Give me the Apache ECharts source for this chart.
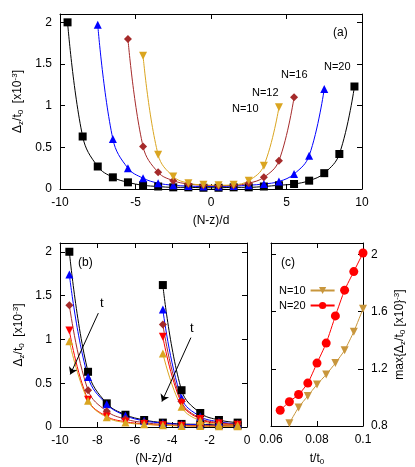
<!DOCTYPE html>
<html><head><meta charset="utf-8">
<script src="https://cdn.jsdelivr.net/npm/echarts@6/dist/echarts.min.js"></script>
<style>html,body{margin:0;padding:0;background:#fff}#c{width:415px;height:467px}</style>
</head><body><div id="c"></div>
<script>
// panel (a)
const xa20 = [-9.5,-8.5,-7.5,-6.5,-5.5,-4.5,-3.5,-2.5,-1.5,-0.5,0.5,1.5,2.5,3.5,4.5,5.5,6.5,7.5,8.5,9.5]
const ya20 = [2.0,0.63,0.27,0.14,0.08,0.045,0.03,0.02,0.02,0.015,0.015,0.02,0.02,0.03,0.045,0.06,0.1,0.19,0.42,1.23]
const xa16 = [-7.5,-6.5,-5.5,-4.5,-3.5,-2.5,-1.5,-0.5,0.5,1.5,2.5,3.5,4.5,5.5,6.5,7.5]
const ya16 = [1.97,0.6,0.25,0.13,0.07,0.045,0.035,0.03,0.03,0.035,0.045,0.06,0.09,0.18,0.4,1.2]
const xa12 = [-5.5,-4.5,-3.5,-2.5,-1.5,-0.5,0.5,1.5,2.5,3.5,4.5,5.5]
const ya12 = [1.8,0.51,0.2,0.1,0.06,0.045,0.04,0.045,0.07,0.14,0.34,1.1]
const xa10 = [-4.5,-3.5,-2.5,-1.5,-0.5,0.5,1.5,2.5,3.5,4.5]
const ya10 = [1.6,0.41,0.15,0.07,0.05,0.045,0.05,0.1,0.28,0.98]
// panel (b): N=20 and N=10 at increasing t
const xb20 = [-9.5,-8.5,-7.5,-6.5,-5.5,-4.5,-3.5,-2.5,-1.5,-0.5]
const yb20 = [
  [2.0,0.63,0.27,0.14,0.08,0.05,0.035,0.03,0.025,0.02],
  [1.74,0.57,0.26,0.13,0.07,0.045,0.03,0.025,0.02,0.02],
  [1.39,0.42,0.18,0.09,0.05,0.03,0.02,0.015,0.012,0.01],
  [1.1,0.31,0.12,0.06,0.035,0.02,0.015,0.01,0.01,0.01],
  [0.98,0.3,0.11,0.05,0.03,0.02,0.012,0.01,0.008,0.008]
]
const xb10 = [-4.5,-3.5,-2.5,-1.5,-0.5]
const yb10 = [
  [1.62,0.42,0.16,0.08,0.05],
  [1.34,0.33,0.12,0.06,0.035],
  [1.17,0.29,0.1,0.05,0.03],
  [1.03,0.27,0.09,0.04,0.025],
  [0.84,0.23,0.07,0.03,0.02]
]
// panel (c)
const xc20 = [0.064,0.068,0.072,0.076,0.08,0.084,0.088,0.092,0.096,0.1]
const yc20 = [0.91,0.97,1.02,1.10,1.24,1.38,1.57,1.75,1.88,2.01]
const xc10 = [0.068,0.072,0.076,0.08,0.084,0.088,0.092,0.096,0.1]
const yc10 = [0.82,0.93,1.01,1.09,1.16,1.24,1.33,1.46,1.62]

const F = 'Liberation Sans, Arial, sans-serif'
const bColors = ['#000000','#0000ff','#a52a2a','#ff0000','#daa520']
const bSymbols = ['rect','triangle','diamond','path://M0,0L10,0L5,9Z','triangle']
const zip = (xs, ys) => xs.map((x, i) => [x, ys[i]])

const rich = {
  a: {fontSize: 12, fontFamily: F, color: '#000'},
  s: {fontSize: 8, fontFamily: F, color: '#000', verticalAlign: 'bottom', padding: [6,0,0,0]},
  p: {fontSize: 8, fontFamily: F, color: '#000', verticalAlign: 'top', padding: [0,0,6,0]}
}
const yNameText = '{a|Δ}{s|z}{a|/t}{s|0}{a|  [x10}{p|-3}{a|]}'

function valAxis(gi, opts, pos, labels) {
  return Object.assign({
    type: 'value', gridIndex: gi, position: pos,
    axisLine: {show: true, onZero: false, lineStyle: {color: '#000'}},
    axisTick: {show: true, inside: true, length: 5, lineStyle: {color: '#000'}},
    axisLabel: {show: labels, color: '#000', fontFamily: F, fontSize: 12},
    splitLine: {show: false}
  }, opts)
}
const xName = {fontFamily: F, fontSize: 12, color: '#000'}
const yLab = {show: true, color: '#000', fontFamily: F, fontSize: 12, formatter: v => v > 2.05 ? '' : v}

const xAxis = [], yAxis = []
// grid 0 (a)
xAxis.push(valAxis(0, {min: -10, max: 10, interval: 5, name: '(N-z)/d', nameLocation: 'middle', nameGap: 26, nameTextStyle: xName}, 'bottom', true))
xAxis.push(valAxis(0, {min: -10, max: 10, interval: 5}, 'top', false))
yAxis.push(valAxis(0, {min: 0, max: 2.1, interval: 0.5, name: yNameText, nameLocation: 'middle', nameGap: 34, nameTextStyle: {rich}, axisLabel: yLab}, 'left', true))
yAxis.push(valAxis(0, {min: 0, max: 2.1, interval: 0.5}, 'right', false))
// grid 1 (b)
xAxis.push(valAxis(1, {min: -10, max: 0, interval: 2, name: '(N-z)/d', nameLocation: 'middle', nameGap: 26, nameTextStyle: xName}, 'bottom', true))
xAxis.push(valAxis(1, {min: -10, max: 0, interval: 2}, 'top', false))
yAxis.push(valAxis(1, {min: 0, max: 2.1, interval: 0.5, name: yNameText, nameLocation: 'middle', nameGap: 34, nameTextStyle: {rich}, axisLabel: yLab}, 'left', true))
yAxis.push(valAxis(1, {min: 0, max: 2.1, interval: 0.5}, 'right', false))
// grid 2 (c)
xAxis.push(valAxis(2, {min: 0.06, max: 0.1, interval: 0.02, name: '{a|t/t}{s|0}', nameLocation: 'middle', nameGap: 26, nameTextStyle: {rich}}, 'bottom', true))
xAxis.push(valAxis(2, {min: 0.06, max: 0.1, interval: 0.02}, 'top', false))
yAxis.push(valAxis(2, {min: 0.8, max: 2.08, interval: 0.4}, 'left', false))
yAxis.push(valAxis(2, {min: 0.8, max: 2.08, interval: 0.4, name: '{a|max{Δ}{s|z}{a|/t}{s|0}{a|} [x10}{p|-3}{a|]}', nameLocation: 'middle', nameGap: 30, nameRotate: 90, nameTextStyle: {rich}, axisLabel: {show: true, color: '#000', fontFamily: F, fontSize: 12, formatter: v => v > 2.05 ? '' : (v > 1.99 ? '2' : v.toFixed(1))}}, 'right', true))

const series = []
const line = (xi, yi, name, color, symbol, data, size) => ({
  type: 'line', name, xAxisIndex: xi, yAxisIndex: yi, data, smooth: 0.4,
  symbol, symbolSize: size || 8, itemStyle: {color}, lineStyle: {color, width: 1}
})
series.push(line(0, 0, 'a20', '#000', 'rect', zip(xa20, ya20)))
series.push(line(0, 0, 'a16', '#0000ff', 'triangle', zip(xa16, ya16)))
series.push(line(0, 0, 'a12', '#a52a2a', 'diamond', zip(xa12, ya12)))
series.push(line(0, 0, 'a10', '#daa520', 'path://M0,0L10,0L5,9Z', zip(xa10, ya10)))
yb20.forEach((ys, i) => series.push(line(2, 2, 'b20_' + i, bColors[i], bSymbols[i], zip(xb20, ys))))
yb10.forEach((ys, i) => series.push(line(2, 2, 'b10_' + i, bColors[i], bSymbols[i], zip(xb10, ys))))
// arrows
series.push({
  type: 'line', xAxisIndex: 2, yAxisIndex: 2, data: [], silent: true,
  markLine: {
    symbol: ['none', 'arrow'], symbolSize: 7, label: {show: false},
    lineStyle: {color: '#000', type: 'solid', width: 1},
    data: [
      [{coord: [-7.95, 1.3]}, {coord: [-9.45, 0.6]}],
      [{coord: [-3.0, 1.02]}, {coord: [-4.55, 0.29]}]
    ]
  }
})
series.push({type: 'line', name: 'N=10', xAxisIndex: 4, yAxisIndex: 4, data: zip(xc10, yc10), smooth: 0.2,
  symbol: 'path://M0,0L10,0L5,9Z', symbolSize: 8, itemStyle: {color: '#c8963c'}, lineStyle: {color: '#c8963c', width: 1}})
series.push({type: 'line', name: 'N=20', xAxisIndex: 4, yAxisIndex: 4, data: zip(xc20, yc20), smooth: 0.2,
  symbol: 'circle', symbolSize: 9, itemStyle: {color: '#ff0000'}, lineStyle: {color: '#ff0000', width: 1}})

const txt = (x, y, s, size) => ({type: 'text', left: x, top: y, style: {text: s, font: (size || 12) + 'px ' + F, fill: '#000'}})

const chart = echarts.init(document.getElementById('c'))
chart.setOption({
  animation: false,
  grid: [
    {left: 60, top: 14, width: 302, height: 175},
    {left: 60, top: 243, width: 187, height: 184},
    {left: 271, top: 243, width: 92, height: 184}
  ],
  xAxis, yAxis, series,
  legend: {
    data: ['N=10', 'N=20'], left: 274, top: 280, orient: 'vertical', align: 'right',
    itemWidth: 24, itemHeight: 9, itemGap: 4,
    textStyle: {fontFamily: F, fontSize: 11, color: '#000'}
  },
  graphic: [
    txt(333, 27, '(a)'), txt(232, 103, 'N=10', 11), txt(252, 87, 'N=12', 11),
    txt(281, 69, 'N=16', 11), txt(324, 61, 'N=20', 11),
    txt(78, 257, '(b)'), txt(100, 297, 't', 13), txt(190, 322, 't', 13),
    txt(281, 257, '(c)')
  ]
})
</script></body></html>
